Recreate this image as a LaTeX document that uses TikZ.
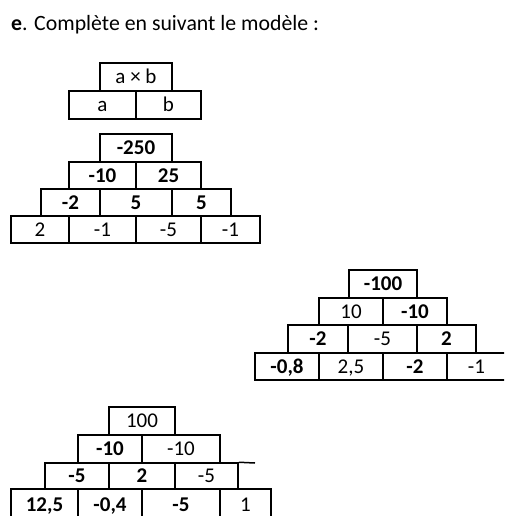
\documentclass[tikz,border=0pt]{standalone}
\usepackage{fontspec}
\setmainfont{Carlito}
\tikzset{
  cell/.style={draw, line width=1.5pt, inner sep=0pt, text height=13.2pt, text depth=0pt, font=\fontsize{21}{25}\selectfont},
  bf/.style={font=\fontsize{21}{25}\selectfont\bfseries},
  nf/.style={},
  edge/.style={line width=1.5pt}
}
\newcommand\pcell[7]{\node[cell,#7,minimum width={(#3-#2)*1pt},minimum height={(#5-#4)*1pt}] (#1) at ({(#2+#3)/2},{(#4+#5)/2}) {#6};}
\begin{document}
\begin{tikzpicture}[x=1pt,y=-1pt]
\useasboundingbox (0,0) rectangle (504,516);
\clip (0,0) rectangle (504,516);
\node[anchor=base west, inner sep=0pt, font=\fontsize{21.8}{26}\selectfont] (title) at (11,31) {\textbf{e}. Complète en suivant le modèle :};
% model
\pcell{m1}{100}{172}{63}{91}{a × b}{nf}
\pcell{m21}{69}{136}{91}{119}{a}{nf}
\pcell{m22}{136}{201}{91}{119}{b}{nf}
% pyramid 1
\pcell{a1}{100}{172}{134}{162}{-250}{bf}
\pcell{a21}{69}{136}{162}{189}{-10}{bf}
\pcell{a22}{136}{201}{162}{189}{25}{bf}
\pcell{a31}{41}{100}{189}{216}{-2}{bf}
\pcell{a32}{100}{172}{189}{216}{5}{bf}
\pcell{a33}{172}{231}{189}{216}{5}{bf}
\pcell{a41}{11}{69}{216}{243}{2}{nf}
\pcell{a42}{69}{136}{216}{243}{-1}{nf}
\pcell{a43}{136}{201}{216}{243}{-5}{nf}
\pcell{a44}{201}{260}{216}{243}{-1}{nf}
% pyramid 2
\pcell{b1}{349}{417}{270}{298}{-100}{bf}
\pcell{b21}{319}{383}{298}{325}{10}{nf}
\pcell{b22}{383}{447}{298}{325}{-10}{bf}
\pcell{b31}{288}{348}{325}{353}{-2}{bf}
\pcell{b32}{348}{417}{325}{353}{-5}{nf}
\pcell{b33}{417}{476}{325}{353}{2}{bf}
\pcell{b41}{255}{319}{353}{380}{-0,8}{bf}
\pcell{b42}{319}{383}{353}{380}{2,5}{nf}
\pcell{b43}{383}{447}{353}{380}{-2}{bf}
\pcell{b44}{447}{506}{353}{380}{-1}{nf}
% pyramid 3
\pcell{c1}{109}{175}{407}{435}{100}{nf}
\pcell{c21}{78}{142}{435}{463}{-10}{bf}
\pcell{c22}{142}{220}{435}{463}{-10}{nf}
\pcell{c31}{45}{109}{463}{489}{-5}{bf}
\pcell{c32}{109}{175}{463}{489}{2}{bf}
\pcell{c33}{175}{238}{463}{489}{-5}{nf}
\coordinate (c34e) at (255,463);
\draw[edge] (c33.north east) -- (c34e);
\pcell{c41}{11}{78}{489}{520}{12,5}{bf}
\pcell{c42}{78}{142}{489}{520}{-0,4}{bf}
\pcell{c43}{142}{220}{489}{520}{-5}{bf}
\pcell{c44}{220}{271}{489}{520}{1}{nf}
\end{tikzpicture}
\end{document}
